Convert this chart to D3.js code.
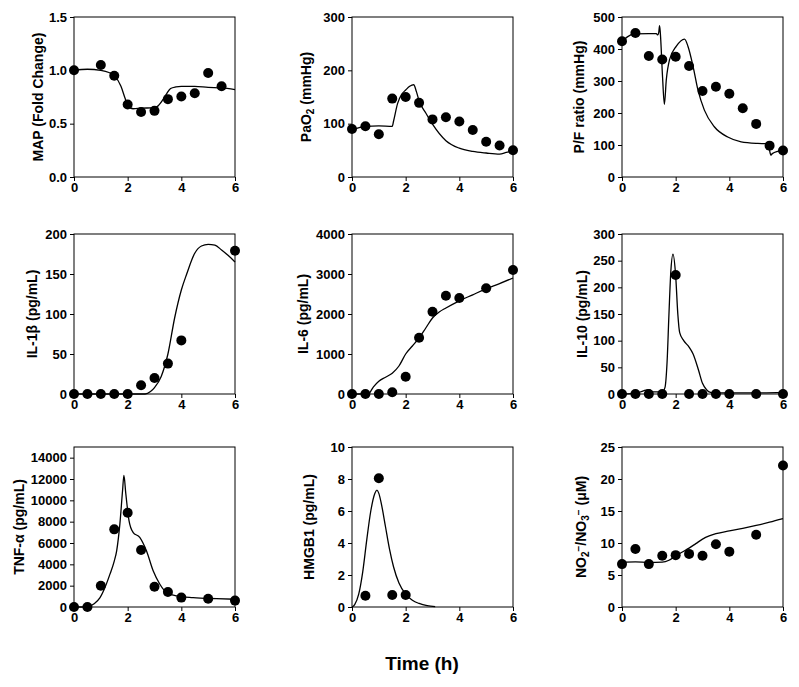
<!DOCTYPE html>
<html><head><meta charset="utf-8">
<script src="https://cdn.jsdelivr.net/npm/d3@7"></script>
<style>
body{margin:0;background:#fff}
text{font-family:"Liberation Sans",Arial,sans-serif;font-weight:bold;fill:#000}
</style>
</head><body><svg id="c" width="799" height="687"></svg>
<script>
// ---- data ----
const xTicks = [0, 2, 4, 6];

const mapT = [0,1,1.5,2,2.5,3,3.5,4,4.5,5,5.5];
const mapV = [1.0,1.05,0.95,0.68,0.61,0.62,0.73,0.755,0.785,0.975,0.85];
const mapLineT = [0,0.5,1,1.3,1.5,1.75,1.9,2,2.2,2.5,3,3.1,3.3,3.45,3.6,3.8,4,4.5,5,5.5,6];
const mapLineV = [1.0,1.01,1.0,0.98,0.95,0.85,0.74,0.67,0.64,0.645,0.65,0.66,0.72,0.78,0.83,0.845,0.85,0.85,0.84,0.835,0.82];
const mapTicks = [0,0.5,1.0,1.5];

const paoT = [0,0.5,1,1.5,2,2.5,3,3.5,4,4.5,5,5.5,6];
const paoV = [90,95,80,147,150,139,108,112,104,88,66,59,50];
const paoLineT = [0,0.3,0.5,1,1.5,1.55,1.7,1.85,2,2.15,2.3,2.4,2.5,2.75,3,3.5,4,4.5,5,5.5,5.75,6];
const paoLineV = [88,93,95,96,95,105,138,155,163,170,173,160,143,120,99,68,54,48,45,43,46,49];
const paoTicks = [0,100,200,300];

const pfT = [0,0.5,1,1.5,2,2.5,3,3.5,4,4.5,5,5.5,6];
const pfV = [424,450,378,367,376,347,269,282,260,215,166,98,83];
const pfLineT = [0,0.2,0.47,1.0,1.28,1.33,1.37,1.40,1.43,1.51,1.58,1.65,1.77,2.02,2.33,2.46,2.65,2.83,3.07,3.44,3.94,4.44,5.06,5.4,5.48,5.55,5.6,6];
const pfLineV = [423,438,447,448,448,444,452,473,448,314,227,303,366,408,431,408,345,272,209,157,125,110,105,104,90,68,73,84];
const pfTicks = [0,100,200,300,400,500];

const il1T = [0,0.5,1,1.5,2,2.5,3,3.5,4,6];
const il1V = [0,0,0,0,0,11,20,38,67,179];
const il1LineT = [0,2,2.65,2.85,3.0,3.25,3.5,3.75,4.0,4.2,4.5,4.75,5,5.25,5.5,5.75,6];
const il1LineV = [0,0,0,3,8,22,50,95,130,150,176,185,187,186,180,173,165];
const il1Ticks = [0,50,100,150,200];

const il6T = [0,0.5,1,1.5,2,2.5,3,3.5,4,5,6];
const il6V = [0,0,0,42,433,1408,2058,2458,2400,2642,3100];
const il6LineT = [0,0.6,0.8,1,1.25,1.5,1.75,2,2.25,2.5,2.75,3,3.25,3.5,4,4.5,5,5.5,6];
const il6LineV = [0,0,180,320,420,520,700,1000,1200,1400,1650,1900,2050,2150,2330,2480,2630,2760,2900];
const il6Ticks = [0,1000,2000,3000,4000];

const il10T = [0,0.5,1,1.5,2,2.5,3,3.5,4,5,6];
const il10V = [0,0,0,0,223,0,0,0,0,0,0];
const il10LineT = [0,0.5,0.8,1,1.15,1.5,1.6,1.68,1.75,1.82,1.9,2.0,2.08,2.15,2.3,2.5,2.65,2.85,3.0,3.15,3.3,3.5,4,5,6];
const il10LineV = [0,1,6,8,4,4,12,60,150,230,262,222,150,115,100,88,75,45,20,8,3,2,2,2,3];
const il10Ticks = [0,50,100,150,200,250,300];

const tnfT = [0,0.5,1,1.5,2,2.5,3,3.5,4,5,6];
const tnfV = [0,0,2000,7280,8840,5340,1900,1400,880,780,600];
const tnfLineT = [0,0.47,0.75,0.97,1.15,1.34,1.5,1.59,1.71,1.81,1.86,1.93,2.05,2.2,2.45,2.7,2.95,3.2,3.45,3.82,4.44,5.3,6];
const tnfLineV = [0,0,300,876,1800,3080,4300,5270,7790,10920,12330,10640,8100,7000,6530,5270,3390,2130,1350,1036,876,780,725];
const tnfTicks = [0,2000,4000,6000,8000,10000,12000,14000];

const hmgT = [0.5,1,1.5,2];
const hmgV = [0.7,8.05,0.75,0.75];
const hmgLineT = [0,0.1,0.25,0.4,0.55,0.7,0.85,0.93,1.0,1.1,1.25,1.4,1.55,1.75,2.0,2.25,2.5,2.8,3.1];
const hmgLineV = [0,0.15,0.8,2.2,4.2,6.0,7.1,7.3,7.1,6.4,5.0,3.6,2.5,1.5,0.8,0.42,0.22,0.08,0.02];
const hmgTicks = [0,2,4,6,8,10];

const noT = [0,0.5,1,1.5,2,2.5,3,3.5,4,5,6];
const noV = [6.7,9.05,6.7,8.0,8.1,8.3,8.0,9.8,8.65,11.3,22.1];
const noLineT = [0,0.5,1,1.5,1.75,2,2.25,2.5,2.75,3,3.25,3.5,4,4.5,5,5.5,6];
const noLineV = [7.0,7.05,6.95,7.0,7.3,8.0,8.6,9.2,9.9,10.6,11.1,11.45,11.9,12.3,12.75,13.25,13.8];
const noTicks = [0,5,10,15,20,25];

const titles = [
  [["MAP (Fold Change)"]],
  [["PaO"],["2","sub"],[" (mmHg)"]],
  [["P/F ratio (mmHg)"]],
  [["IL-1β (pg/mL)"]],
  [["IL-6 (pg/mL)"]],
  [["IL-10 (pg/mL)"]],
  [["TNF-α (pg/mL)"]],
  [["HMGB1 (pg/mL)"]],
  [["NO"],["2","sub"],["−","sup"],["/NO"],["3","sub"],["−","sup"],[" (μM)"]]
];
const xTitle = "Time (h)";

// ---- layout ----
const svg = d3.select("#c");
const cols = [74, 352, 622], rows = [17, 234, 447];
const W = 161, H = 160;
const titleOff = [36, 46, 43, 42, 49, 40, 55, 43, 41];

const panels = [
  {t:mapT,v:mapV,lt:mapLineT,lv:mapLineV,ymax:1.5,ticks:mapTicks,fmt:d3.format(".1f")},
  {t:paoT,v:paoV,lt:paoLineT,lv:paoLineV,ymax:300,ticks:paoTicks,fmt:d3.format("d")},
  {t:pfT,v:pfV,lt:pfLineT,lv:pfLineV,ymax:500,ticks:pfTicks,fmt:d3.format("d")},
  {t:il1T,v:il1V,lt:il1LineT,lv:il1LineV,ymax:200,ticks:il1Ticks,fmt:d3.format("d")},
  {t:il6T,v:il6V,lt:il6LineT,lv:il6LineV,ymax:4000,ticks:il6Ticks,fmt:d3.format("d")},
  {t:il10T,v:il10V,lt:il10LineT,lv:il10LineV,ymax:300,ticks:il10Ticks,fmt:d3.format("d")},
  {t:tnfT,v:tnfV,lt:tnfLineT,lv:tnfLineV,ymax:15000,ticks:tnfTicks,fmt:d3.format("d")},
  {t:hmgT,v:hmgV,lt:hmgLineT,lv:hmgLineV,ymax:10,ticks:hmgTicks,fmt:d3.format("d")},
  {t:noT,v:noV,lt:noLineT,lv:noLineV,ymax:25,ticks:noTicks,fmt:d3.format("d")}
];

panels.forEach((p, i) => {
  const left = cols[i % 3], top = rows[Math.floor(i / 3)];
  const x = d3.scaleLinear().domain([0, 6]).range([left, left + W]);
  const y = d3.scaleLinear().domain([0, p.ymax]).range([top + H, top]);
  const g = svg.append("g");

  const ya = g.append("g").attr("transform", `translate(${left},0)`)
    .call(d3.axisLeft(y).tickValues(p.ticks).tickFormat(p.fmt).tickSize(4).tickPadding(3));
  const xa = g.append("g").attr("transform", `translate(0,${top + H})`)
    .call(d3.axisBottom(x).tickValues(xTicks).tickFormat(d3.format("d")).tickSize(4).tickPadding(2));
  [ya, xa].forEach(a => {
    a.select(".domain").remove();
    a.selectAll("line").attr("stroke", "#000");
    a.selectAll("text").style("font-size", "13px").style("font-family", "'Liberation Sans',Arial,sans-serif").style("font-weight", "bold");
  });

  g.append("rect").attr("x", left).attr("y", top).attr("width", W).attr("height", H)
    .attr("fill", "none").attr("stroke", "#000").attr("stroke-width", 1);

  const line = d3.line().x(d => x(d[0])).y(d => y(d[1])).curve(d3.curveMonotoneX);
  g.append("path").datum(d3.zip(p.lt, p.lv)).attr("d", line)
    .attr("fill", "none").attr("stroke", "#000").attr("stroke-width", 1.3);

  g.selectAll("circle.pt").data(d3.zip(p.t, p.v)).join("circle")
    .attr("class", "pt").attr("cx", d => x(d[0])).attr("cy", d => y(d[1])).attr("r", 5).attr("fill", "#000");

  const tx = left - titleOff[i], ty = top + H / 2;
  const tt = g.append("text").attr("transform", `translate(${tx},${ty}) rotate(-90)`)
    .attr("text-anchor", "middle").attr("dy", "0.35em").style("font-size", "14px");
  titles[i].forEach(seg => {
    const s = tt.append("tspan").text(seg[0]);
    if (seg[1] === "sub") s.attr("baseline-shift", "-25%").style("font-size", "10px");
    if (seg[1] === "sup") s.attr("baseline-shift", "40%").style("font-size", "10px");
  });
});

svg.append("text").attr("x", 422).attr("y", 670).attr("text-anchor", "middle")
  .style("font-size", "19px").text(xTitle);
</script>
</body></html>
